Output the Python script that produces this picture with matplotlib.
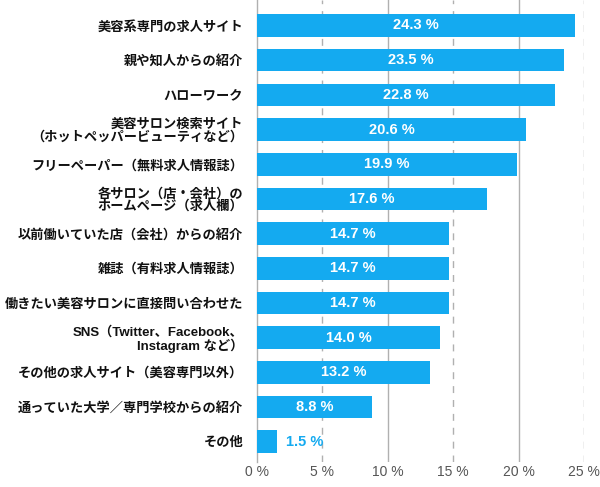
import matplotlib
matplotlib.use("Agg")
import matplotlib.pyplot as plt

categories = [
    "美容系専門の求人サイト",
    "親や知人からの紹介",
    "ハローワーク",
    "美容サロン検索サイト\n（ホットペッパービューティなど）",
    "フリーペーパー（無料求人情報誌）",
    "各サロン（店・会社）の\nホームページ（求人欄）",
    "以前働いていた店（会社）からの紹介",
    "雑誌（有料求人情報誌）",
    "働きたい美容サロンに直接問い合わせた",
    "SNS（Twitter、Facebook、\nInstagram など）",
    "その他の求人サイト（美容専門以外）",
    "通っていた大学／専門学校からの紹介",
    "その他",
]
values = [24.3, 23.5, 22.8, 20.6, 19.9, 17.6, 14.7, 14.7, 14.7, 14.0, 13.2, 8.8, 1.5]
xticks = [0, 5, 10, 15, 20, 25]
xticklabels = ["0 %", "5 %", "10 %", "15 %", "20 %", "25 %"]

FAM = ["Liberation Sans", "Noto Sans CJK JP", "DejaVu Sans"]
plt.rcParams["font.family"] = FAM
BLUE = "#14AAF0"

fig = plt.figure(figsize=(6, 4.87), dpi=100)
ax = fig.add_axes([257/600, 1 - 462/487, (584 - 257)/600, 462/487])

n = len(values)
ypos = list(range(n))
ax.barh(ypos, values, height=0.65, color=BLUE, zorder=3)
ax.set_ylim(n - 1 + 0.585, -0.735)
ax.set_xlim(0, 25)

for x in xticks[1:]:
    if x % 10 == 0:
        ax.axvline(x, color="#b0b0b0", lw=1.0, zorder=1)
    else:
        ax.axvline(x, color="#b0b0b0", lw=1.0, ls=(0, (5, 5)), zorder=1)

for y, v in zip(ypos, values):
    txt = f"{v:.1f} %"
    if v > 5:
        ax.text(v / 2, y, txt, ha="center", va="center", color="white",
                fontsize=10.5, fontweight="bold", zorder=4)
    else:
        ax.text(v + 0.7, y, txt, ha="left", va="center", color=BLUE,
                fontsize=10.5, fontweight="bold", zorder=4)

ax.set_yticks(ypos)
ax.set_yticklabels(categories, fontsize=9.5, fontweight="bold", linespacing=1.0,
                   color="#111111")
ax.tick_params(axis="y", length=0, pad=10)
ax.set_xticks(xticks)
ax.set_xticklabels(xticklabels, fontsize=10, color="#555555")
ax.tick_params(axis="x", length=0, pad=2)

for s in ["top", "right", "bottom"]:
    ax.spines[s].set_visible(False)
ax.spines["left"].set_color("#b0b0b0")
ax.spines["left"].set_linewidth(1.0)

fig.savefig("out.png", dpi=100)
